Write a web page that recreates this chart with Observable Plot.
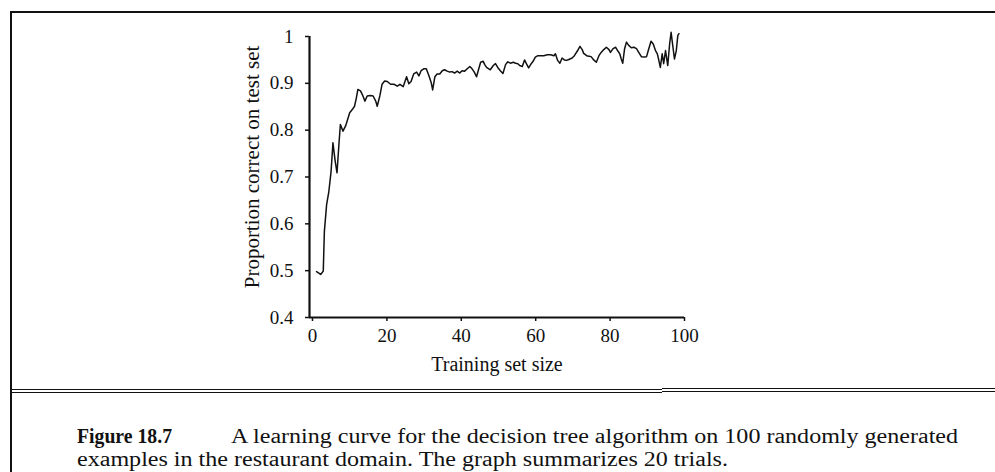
<!DOCTYPE html>
<html>
<head>
<meta charset="utf-8">
<script src="https://cdn.jsdelivr.net/npm/d3@7"></script>
<script src="https://cdn.jsdelivr.net/npm/@observablehq/plot@0.6"></script>
<style>
  html, body { margin: 0; padding: 0; background: #fff; }
  #page { position: relative; width: 995px; height: 472px; overflow: hidden; background: #fff; font-family: "Liberation Serif", "Times New Roman", serif; color: #111; }
  .ln { position: absolute; background: #111; }
  #chart { position: absolute; left: 0; top: 0; }
  .cap { position: absolute; left: 77px; font-size: 20px; white-space: nowrap; line-height: 1; transform-origin: 0 50%; }
</style>
</head>
<body>
<div id="page">
  <div id="chart"></div>
  <div class="ln" style="left:10px;top:11px;width:985px;height:2px"></div>
  <div class="ln" style="left:10px;top:11px;width:2px;height:461px"></div>
  <div class="ln" style="left:12px;top:389px;width:650px;height:1px"></div>
  <div class="ln" style="left:12px;top:392px;width:650px;height:1px"></div>
  <div class="ln" style="left:662px;top:388px;width:333px;height:1px"></div>
  <div class="ln" style="left:662px;top:391px;width:333px;height:1px"></div>
  <div class="cap" id="cap1" style="top:426px"><b>Figure 18.7</b></div>
  <div class="cap" id="cap1b" style="top:426px;left:231px">A learning curve for the decision tree algorithm on 100 randomly generated</div>
  <div class="cap" id="cap2" style="top:449px">examples in the restaurant domain. The graph summarizes 20 trials.</div>
</div>
<script>
const trainingSize = [1.1,2.2,2.9,3.2,3.8,4.4,5.0,5.5,6.1,6.6,7.1,7.5,8.2,8.9,9.3,10.0,10.7,11.3,11.8,12.2,12.9,13.4,14.1,14.7,15.6,16.3,17.0,17.4,18.1,18.7,19.4,20.1,21.0,21.9,22.8,23.5,24.4,25.3,25.9,26.5,27.2,28.0,28.6,29.2,29.9,30.6,31.3,31.9,32.3,32.9,33.5,34.2,34.9,35.5,36.2,36.9,37.5,38.2,38.9,39.6,40.2,40.9,41.6,42.3,42.9,43.5,44.1,44.7,45.2,45.9,46.3,46.8,47.4,47.8,48.6,49.2,49.8,50.5,51.2,51.9,52.5,53.2,54.0,54.6,55.2,55.7,56.4,57.0,57.5,58.1,58.8,59.3,59.9,60.6,61.3,62.2,63.1,64.0,64.9,65.3,65.9,66.5,67.1,67.7,68.3,68.9,69.8,70.4,71.2,71.9,72.5,72.9,73.7,74.3,74.9,75.6,76.3,77.0,77.6,78.3,79.0,79.7,80.1,80.8,81.5,82.1,82.6,83.0,83.4,83.9,84.4,85.0,85.7,86.4,87.1,87.7,88.4,89.1,89.8,90.4,91.0,91.6,92.2,92.7,93.1,93.5,94.0,94.4,94.9,95.5,96.0,96.4,96.9,97.3,97.8,98.2,98.5];
const proportion = [0.498,0.492,0.499,0.584,0.641,0.669,0.712,0.773,0.734,0.709,0.769,0.812,0.798,0.809,0.819,0.837,0.844,0.851,0.869,0.887,0.884,0.876,0.862,0.873,0.874,0.873,0.862,0.851,0.873,0.898,0.905,0.904,0.898,0.898,0.894,0.898,0.893,0.914,0.899,0.904,0.920,0.924,0.916,0.927,0.931,0.931,0.916,0.902,0.886,0.914,0.920,0.920,0.927,0.929,0.926,0.924,0.925,0.922,0.926,0.922,0.927,0.926,0.931,0.936,0.931,0.924,0.914,0.931,0.945,0.947,0.940,0.934,0.931,0.929,0.938,0.942,0.934,0.927,0.921,0.940,0.946,0.943,0.945,0.943,0.942,0.938,0.936,0.950,0.942,0.933,0.942,0.947,0.956,0.959,0.959,0.959,0.961,0.961,0.959,0.963,0.949,0.943,0.954,0.950,0.949,0.951,0.954,0.959,0.969,0.979,0.972,0.964,0.959,0.958,0.957,0.950,0.945,0.959,0.966,0.972,0.977,0.972,0.966,0.974,0.977,0.969,0.963,0.952,0.943,0.974,0.988,0.981,0.976,0.977,0.974,0.966,0.957,0.956,0.957,0.974,0.990,0.984,0.970,0.963,0.949,0.934,0.963,0.942,0.970,0.938,0.984,1.009,0.977,0.952,0.970,1.002,1.006];
const xTicks = [0, 20, 40, 60, 80, 100];
const xTickLabels = ["0", "20", "40", "60", "80", "100"];
const yTicks = [0.4, 0.5, 0.6, 0.7, 0.8, 0.9, 1];
const yTickLabels = ["0.4", "0.5", "0.6", "0.7", "0.8", "0.9", "1"];
const xLabel = "Training set size";
const yLabel = "Proportion correct on test set";

const data = trainingSize.map((x, i) => ({x, y: proportion[i]}));

const chart = Plot.plot({
  width: 995,
  height: 390,
  marginLeft: 309,
  marginRight: 311,
  marginTop: 36,
  marginBottom: 73,
  style: {fontFamily: "Liberation Serif", fontSize: "19px", color: "#111", background: "transparent"},
  x: {domain: [-0.8, 100]},
  y: {domain: [0.4, 1]},
  marks: [
    Plot.axisX({ticks: xTicks, tickSize: 4, tickPadding: 7, tickFormat: d => xTickLabels[xTicks.indexOf(d)], label: null, strokeWidth: 1.5}),
    Plot.axisY({ticks: yTicks, tickSize: 4, tickPadding: 12, tickFormat: d => yTickLabels[yTicks.indexOf(d)], label: null, strokeWidth: 1.5}),
    Plot.ruleX([-0.8], {strokeWidth: 2.2, stroke: "#111"}),
    Plot.ruleY([0.4], {strokeWidth: 2.2, stroke: "#111"}),
    Plot.line(data, {x: "x", y: "y", stroke: "#111", strokeWidth: 1.5}),
    Plot.text([yLabel], {frameAnchor: "left", textAnchor: "middle", rotate: -90, dx: -57, dy: -10, fontSize: 21}),
    Plot.text([xLabel], {frameAnchor: "bottom", textAnchor: "middle", dy: 53, fontSize: 20})
  ]
});
document.getElementById("chart").append(chart);

// fit caption lines to the reference widths
function fit(id, w) {
  const el = document.getElementById(id);
  const r = el.getBoundingClientRect().width;
  if (r > 0) el.style.transform = `scaleX(${w / r})`;
}
fit("cap1", 95);
fit("cap1b", 727);
fit("cap2", 651);
</script>
</body>
</html>
